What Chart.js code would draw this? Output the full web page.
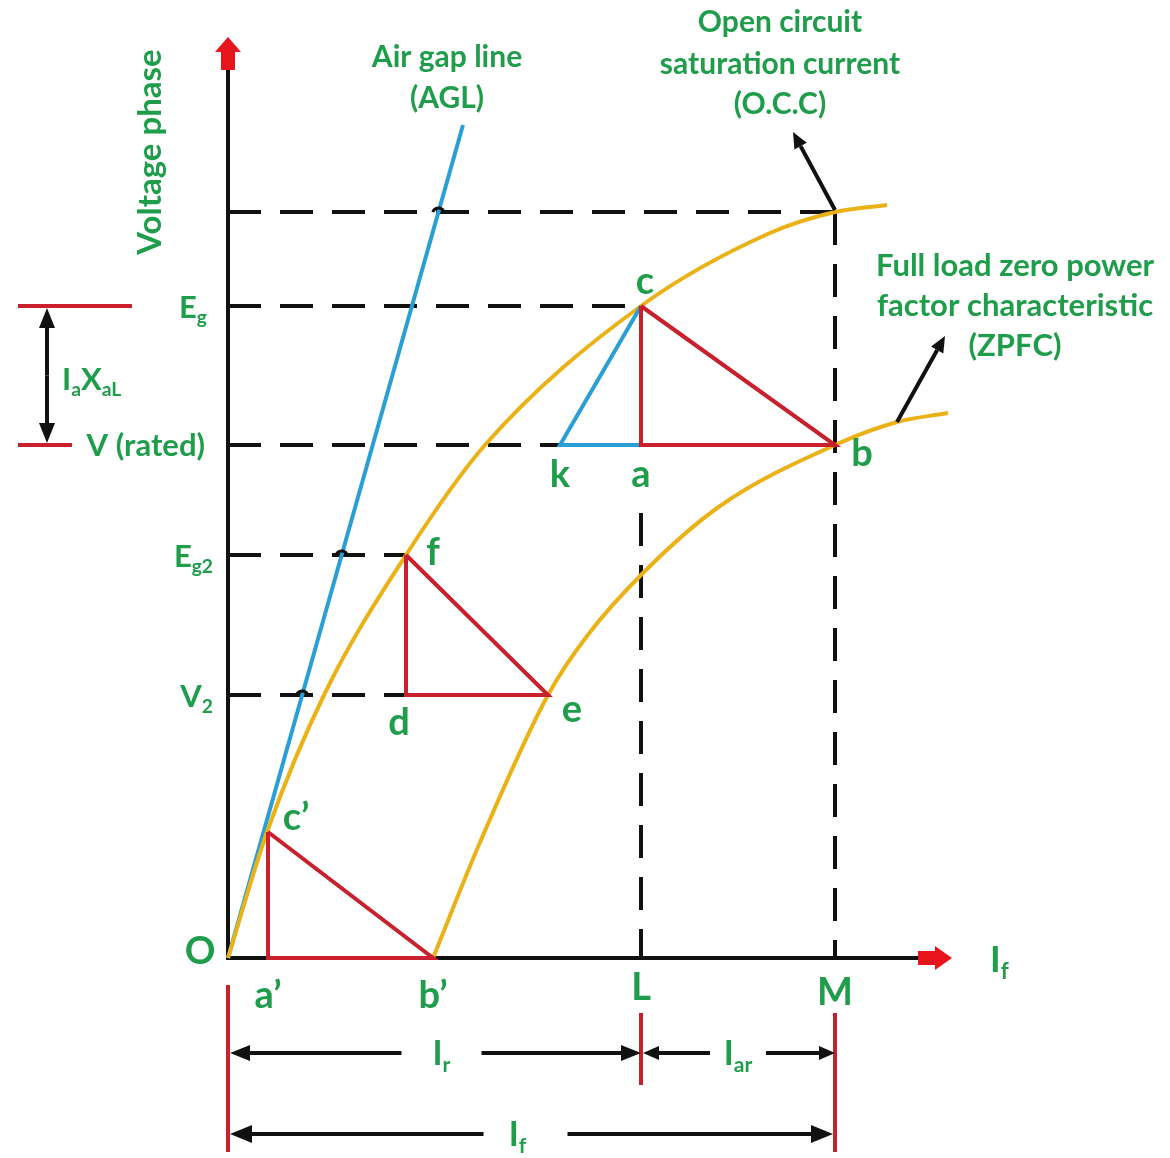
<!DOCTYPE html>
<html>
<head>
<meta charset="utf-8">
<script src="https://cdn.jsdelivr.net/npm/chart.js@4.4.1/dist/chart.umd.min.js"></script>
<style>
    html, body { margin: 0; padding: 0; background: #fff; }
    #wrap { width: 1170px; height: 1158px; position: relative; }
</style>
</head>
<body>
<div id="wrap"><canvas id="grafico"></canvas></div>
<script>
const correnteOCC = [0, 39, 97, 178, 257, 413, 542, 607, 659];
const tensaoOCC   = [0, 126, 265, 403, 513, 652, 725, 746, 753];

const correnteZPF = [205, 253, 320, 359, 415, 492, 607, 669, 720];
const tensaoZPF   = [0, 118, 263, 322, 385, 452, 513, 536, 545];

const correnteAGL = [0, 235];
const tensaoAGL   = [0, 833];

// níveis de tensão (rótulos do eixo y)
const rotulosTensao = ['Eg', 'V (rated)', 'Eg2', 'V2'];
const niveisTensao  = [652, 513, 403, 263];
const nivelTopo = 746;

// marcas no eixo de corrente
const rotulosCorrente = ['a’', 'b’', 'L', 'M'];
const marcasCorrente  = [40, 205, 413, 607];
const correnteK = 332;
const correnteD = 178;
const correnteE = 320;
const tensaoC1  = 126;   // ponto c'
const inicioL   = 445;   // onde começa o tracejado vertical em L

const [Eg, V, Eg2, V2] = niveisTensao;
const [xA1, xB1, xL, xM] = marcasCorrente;

const VERDE = '#1f9d4b';
const AMARELO = '#ebb217';
const VERMELHO = '#c8202c';
const AZUL = '#2a9fd6';
const PRETO = '#111111';
const FONTE = 'Lato, "Open Sans", sans-serif';

const xy = (xs, ys) => xs.map((x, i) => ({ x: x, y: ys[i] }));
const pt = (x, y) => ({ x: x, y: y });

function linha(dados, cor, extra) {
    return Object.assign({
        data: dados,
        showLine: true,
        borderColor: cor,
        borderWidth: 4,
        pointRadius: 0,
        fill: false,
        clip: false,
        tension: 0
    }, extra || {});
}

const tracejado = { borderDash: [33, 19], order: 5 };

const datasets = [
    // triângulos vermelhos
    linha([pt(xL, Eg), pt(xL, V), pt(xM, V), pt(xL, Eg)], VERMELHO, { order: 1 }),
    linha([pt(correnteD, Eg2), pt(correnteD, V2), pt(correnteE, V2), pt(correnteD, Eg2)], VERMELHO, { order: 1 }),
    linha([pt(xA1, tensaoC1), pt(xA1, 0), pt(xB1, 0), pt(xA1, tensaoC1)], VERMELHO, { order: 1 }),
    // triângulo azul k-c-a
    linha([pt(xL, Eg), pt(correnteK, V), pt(xL, V)], AZUL, { order: 2 }),
    // curvas
    linha(xy(correnteOCC, tensaoOCC), AMARELO, { cubicInterpolationMode: 'monotone', order: 3 }),
    linha(xy(correnteZPF, tensaoZPF), AMARELO, { cubicInterpolationMode: 'monotone', order: 3 }),
    linha(xy(correnteAGL, tensaoAGL), AZUL, { order: 4 }),
    // linhas tracejadas
    linha([pt(0, nivelTopo), pt(xM, nivelTopo)], PRETO, tracejado),
    linha([pt(0, Eg), pt(xL, Eg)], PRETO, tracejado),
    linha([pt(0, V), pt(correnteK, V)], PRETO, tracejado),
    linha([pt(0, Eg2), pt(correnteD, Eg2)], PRETO, tracejado),
    linha([pt(0, V2), pt(correnteD, V2)], PRETO, tracejado),
    linha([pt(xL, inicioL), pt(xL, 0)], PRETO, tracejado),
    linha([pt(xM, nivelTopo), pt(xM, 0)], PRETO, tracejado)
];

// texto com subscritos: partes = [[texto, ehSub], ...]
function texto(ctx, partes, x, y, tam, alinhar) {
    const fs = p => (p[1] ? tam * 0.62 : tam);
    let largura = 0;
    partes.forEach(p => {
        ctx.font = `bold ${fs(p)}px ${FONTE}`;
        largura += ctx.measureText(p[0]).width;
    });
    let x0 = alinhar === 'center' ? x - largura / 2 : (alinhar === 'right' ? x - largura : x);
    ctx.textAlign = 'left';
    ctx.textBaseline = 'alphabetic';
    partes.forEach(p => {
        ctx.font = `bold ${fs(p)}px ${FONTE}`;
        ctx.fillText(p[0], x0, y + (p[1] ? tam * 0.2 : 0));
        x0 += ctx.measureText(p[0]).width;
    });
}

function seta(ctx, x1, y1, x2, y2, cor, larg, comp, meia) {
    const ang = Math.atan2(y2 - y1, x2 - x1);
    const bx = x2 - comp * Math.cos(ang), by = y2 - comp * Math.sin(ang);
    ctx.strokeStyle = cor;
    ctx.fillStyle = cor;
    ctx.lineWidth = larg;
    ctx.beginPath();
    ctx.moveTo(x1, y1);
    ctx.lineTo(bx, by);
    ctx.stroke();
    ctx.beginPath();
    ctx.moveTo(x2, y2);
    ctx.lineTo(bx + meia * Math.sin(ang), by - meia * Math.cos(ang));
    ctx.lineTo(bx - meia * Math.sin(ang), by + meia * Math.cos(ang));
    ctx.closePath();
    ctx.fill();
}

function seg(ctx, x1, y1, x2, y2, cor, larg) {
    ctx.strokeStyle = cor;
    ctx.lineWidth = larg;
    ctx.beginPath();
    ctx.moveTo(x1, y1);
    ctx.lineTo(x2, y2);
    ctx.stroke();
}

// Eixos pretos com setas vermelhas
const eixosPlugin = {
    id: 'eixos',
    beforeDatasetsDraw(chart) {
        const ctx = chart.ctx;
        const sx = chart.scales.x, sy = chart.scales.y;
        const x0 = sx.getPixelForValue(0), y0 = sy.getPixelForValue(0);
        ctx.save();
        ctx.lineCap = 'butt';
        seg(ctx, x0, y0 + 2, x0, 68, PRETO, 4);
        seg(ctx, x0 - 2, y0, 920, y0, PRETO, 4);
        ctx.fillStyle = '#e8141c';
        // seta para cima
        ctx.fillRect(x0 - 7, 50, 14, 20);
        ctx.beginPath();
        ctx.moveTo(x0, 37); ctx.lineTo(x0 + 13, 52); ctx.lineTo(x0 - 13, 52); ctx.closePath(); ctx.fill();
        // seta para a direita
        ctx.fillRect(918, y0 - 7, 18, 14);
        ctx.beginPath();
        ctx.moveTo(952, y0); ctx.lineTo(935, y0 - 12); ctx.lineTo(935, y0 + 12); ctx.closePath(); ctx.fill();
        ctx.restore();
    }
};

// Rótulos, cotas e setas de chamada
const anotacoesPlugin = {
    id: 'anotacoes',
    afterDatasetsDraw(chart) {
        const ctx = chart.ctx;
        const sx = chart.scales.x, sy = chart.scales.y;
        const px = v => sx.getPixelForValue(v);
        const py = v => sy.getPixelForValue(v);
        const x0 = px(0), y0 = py(0);
        const incl = correnteAGL[1] / tensaoAGL[1];
        ctx.save();

        // pequenos "saltos" onde o tracejado cruza a AGL
        ctx.strokeStyle = PRETO;
        ctx.lineWidth = 3;
        [nivelTopo, Eg2, V2].forEach(n => {
            const cx = px(n * incl), cy = py(n);
            ctx.beginPath();
            ctx.arc(cx, cy + 2, 6, Math.PI * 1.1, Math.PI * 1.9);
            ctx.stroke();
        });

        // setas de chamada OCC e ZPFC
        seta(ctx, px(xM), py(nivelTopo) - 2, px(xM) - 42, py(nivelTopo) - 80, PRETO, 4, 16, 7);
        seta(ctx, px(669), py(536), px(669) + 48, py(536) - 86, PRETO, 4, 16, 7);

        ctx.fillStyle = VERDE;
        // rótulos do eixo de tensão
        texto(ctx, [['E'], ['g', 1]], 207, py(Eg) + 12, 31, 'right');
        texto(ctx, [['V (rated)']], 205, py(V) + 11, 31, 'right');
        texto(ctx, [['E'], ['g2', 1]], 213, py(Eg2) + 12, 31, 'right');
        texto(ctx, [['V'], ['2', 1]], 213, py(V2) + 12, 31, 'right');

        // I_a X_aL
        seg(ctx, 18, py(Eg), 132, py(Eg), VERMELHO, 4);
        seg(ctx, 18, py(V), 72, py(V), VERMELHO, 4);
        const meioV = (py(Eg) + py(V)) / 2;
        seta(ctx, 47, meioV, 47, py(Eg) + 2, PRETO, 4, 20, 8);
        seta(ctx, 47, meioV, 47, py(V) - 2, PRETO, 4, 20, 8);
        ctx.fillStyle = VERDE;
        texto(ctx, [['I'], ['a', 1], ['X'], ['aL', 1]], 62, 390, 31, 'left');

        // rótulos dos pontos
        ctx.fillStyle = VERDE;
        const T = 38;
        texto(ctx, [['c']], px(xL) + 4, py(Eg) - 12, T, 'center');
        texto(ctx, [['a']], px(xL), py(V) + 42, T, 'center');
        texto(ctx, [['b']], px(xM) + 27, py(V) + 21, T, 'center');
        texto(ctx, [['k']], px(correnteK), py(V) + 42, T, 'center');
        texto(ctx, [['f']], px(correnteD) + 27, py(Eg2) + 10, T, 'center');
        texto(ctx, [['d']], px(correnteD) - 7, py(V2) + 40, T, 'center');
        texto(ctx, [['e']], px(correnteE) + 24, py(V2) + 27, T, 'center');
        texto(ctx, [['c’']], px(xA1) + 28, py(tensaoC1) - 2, T, 'center');
        texto(ctx, [['O']], x0 - 28, y0 + 6, T, 'center');
        rotulosCorrente.forEach((r, i) => {
            const dy = r === 'L' ? 42 : (r === 'M' ? 47 : 50);
            texto(ctx, [[r]], px(marcasCorrente[i]), y0 + dy, T, 'center');
        });
        // rótulo do eixo de corrente
        texto(ctx, [['I'], ['f', 1]], 990, y0 + 14, 36, 'left');

        // textos das curvas
        const T2 = 30;
        texto(ctx, [['Air gap line']], 447, 67, T2, 'center');
        texto(ctx, [['(AGL)']], 447, 108, T2, 'center');
        texto(ctx, [['Open circuit']], 780, 32, T2, 'center');
        texto(ctx, [['saturation current']], 780, 74, T2, 'center');
        texto(ctx, [['(O.C.C)']], 780, 114, T2, 'center');
        texto(ctx, [['Full load zero power']], 1015, 276, 31, 'center');
        texto(ctx, [['factor characteristic']], 1015, 316, 31, 'center');
        texto(ctx, [['(ZPFC)']], 1015, 356, 31, 'center');

        // título do eixo y (rotacionado)
        ctx.save();
        ctx.translate(161, 152);
        ctx.rotate(-Math.PI / 2);
        texto(ctx, [['Voltage phase']], 0, 0, 33, 'center');
        ctx.restore();

        // cotas inferiores
        const xLp = px(xL), xMp = px(xM);
        seg(ctx, x0, y0 + 27, x0, y0 + 194, VERMELHO, 4);
        seg(ctx, xLp, y0 + 55, xLp, y0 + 127, VERMELHO, 4);
        seg(ctx, xMp, y0 + 55, xMp, y0 + 194, VERMELHO, 4);
        const r1 = y0 + 95, r2 = y0 + 176;
        const cIr = (x0 + xLp) / 2 + 7;
        seta(ctx, cIr - 40, r1, x0 + 2, r1, PRETO, 4, 20, 8);
        seta(ctx, cIr + 40, r1, xLp, r1, PRETO, 4, 20, 8);
        const cIar = (xLp + xMp) / 2;
        seta(ctx, cIar - 28, r1, xLp + 2, r1, PRETO, 4, 16, 7);
        seta(ctx, cIar + 28, r1, xMp, r1, PRETO, 4, 16, 7);
        const cIf = (x0 + xMp) / 2 - 6;
        seta(ctx, cIf - 42, r2, x0 + 2, r2, PRETO, 4, 22, 9);
        seta(ctx, cIf + 42, r2, xMp - 2, r2, PRETO, 4, 22, 9);
        ctx.fillStyle = VERDE;
        texto(ctx, [['I'], ['r', 1]], cIr, r1 + 12, 34, 'center');
        texto(ctx, [['I'], ['ar', 1]], cIar, r1 + 12, 34, 'center');
        texto(ctx, [['I'], ['f', 1]], cIf - 8, r2 + 12, 34, 'center');

        ctx.restore();
    }
};

new Chart(document.getElementById('grafico'), {
    type: 'scatter',
    data: { datasets: datasets },
    options: {
        responsive: true,
        maintainAspectRatio: false,
        animation: false,
        events: [],
        layout: { padding: { left: 228, right: 220, top: 45, bottom: 200 } },
        scales: {
            x: { type: 'linear', min: 0, max: 722, display: false },
            y: { type: 'linear', min: 0, max: 913, display: false }
        },
        plugins: { legend: { display: false }, tooltip: { enabled: false } }
    },
    plugins: [eixosPlugin, anotacoesPlugin]
});
</script>
</body>
</html>
